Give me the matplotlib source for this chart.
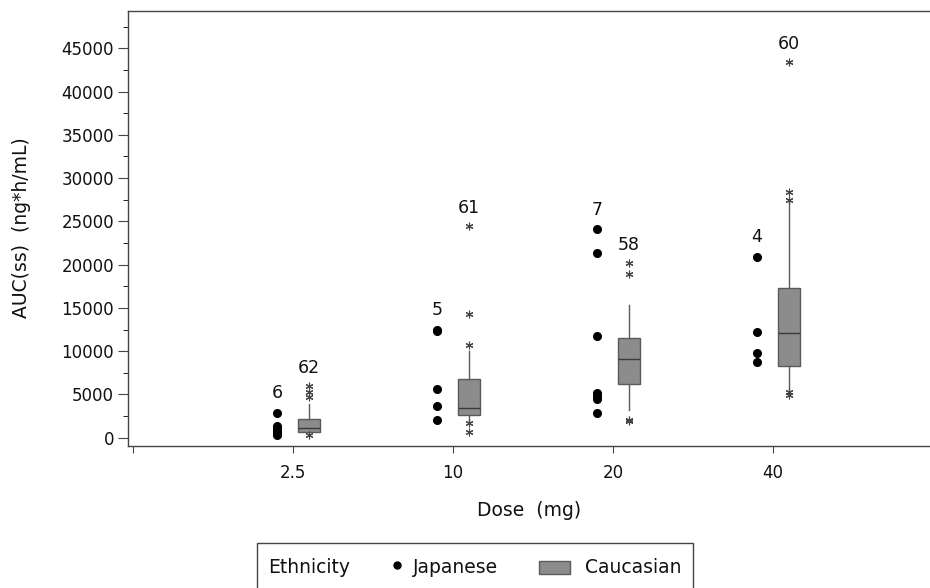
import matplotlib
matplotlib.use('Agg')
import matplotlib.pyplot as plt
from matplotlib.ticker import MultipleLocator
from matplotlib.lines import Line2D
from matplotlib.patches import Rectangle
from matplotlib.offsetbox import AnchoredOffsetbox, HPacker, VPacker, TextArea, DrawingArea

# Dose groups (first slot is an empty spacer tick)
dose_labels = ['', '2.5', '10', '20', '40']
dose_pos = [1, 2, 3, 4]

# Japanese individual AUC(ss) values per dose group
jap_25 = [2900, 1400, 1100, 800, 500, 300]
jap_10 = [12500, 12300, 5600, 3700, 2100]
jap_20 = [24100, 21400, 11800, 5200, 4800, 4500, 2900]
jap_40 = [20900, 12200, 9800, 8700]

# Caucasian box summaries per dose group
cau_q1 = [700, 2600, 6200, 8300]
cau_med = [1150, 3450, 9100, 12050]
cau_q3 = [2200, 6800, 11500, 17250]
cau_whislo = [500, 1900, 3200, 5500]
cau_whishi = [3950, 10000, 15300, 27200]
cau_fliers = [
    [4700, 5300, 5950, 300],
    [10700, 14300, 24500, 1750, 700],
    [18900, 20200, 2100, 1900],
    [27500, 28400, 43400, 5300, 4900],
]
cau_n = [62, 61, 58, 60]

BOX_FILL = '#8c8c8c'
BOX_EDGE = '#5a5a5a'
AXIS_COL = '#444444'
TXT = '#111111'

fig = plt.figure(figsize=(9.3, 5.88), dpi=100, facecolor='white')
ax = fig.add_axes([128 / 930, 1 - 445.5 / 588, 1 - 128 / 930, (445.5 - 10.5) / 588])

# Japanese: black dots shifted left of the tick
jap_groups = [jap_25, jap_10, jap_20, jap_40]
for x, vals in zip(dose_pos, jap_groups):
    ax.plot([x - 0.1] * len(vals), vals, 'o', color='black', ms=5.5, zorder=3)
    ax.annotate(str(len(vals)), (x - 0.1, max(vals)), xytext=(0, 14),
                textcoords='offset points', ha='center', va='center',
                fontsize=12.5, color=TXT)

# Caucasian: box plots shifted right of the tick
stats = []
for i in range(4):
    stats.append(dict(q1=cau_q1[i], med=cau_med[i], q3=cau_q3[i],
                      whislo=cau_whislo[i], whishi=cau_whishi[i],
                      fliers=cau_fliers[i]))
ax.bxp(stats, positions=[x + 0.1 for x in dose_pos], widths=0.14,
       patch_artist=True, showcaps=False, manage_ticks=False,
       boxprops=dict(facecolor=BOX_FILL, edgecolor=BOX_EDGE, linewidth=1),
       medianprops=dict(color='#3a3a3a', linewidth=1),
       whiskerprops=dict(color=BOX_EDGE, linewidth=1),
       flierprops=dict(marker=(6, 2, 0), markersize=5.5, markeredgecolor='#444444',
                       markeredgewidth=0.8, linestyle='none'))
for x, n, fl, hi in zip(dose_pos, cau_n, cau_fliers, cau_whishi):
    top = max(fl + [hi])
    ax.annotate(str(n), (x + 0.1, top), xytext=(0, 13),
                textcoords='offset points', ha='center', va='center',
                fontsize=12.5, color=TXT)

ax.set_xlim(-0.03, 4.98)
ax.set_ylim(-900, 49370)
ax.set_xticks(range(5))
ax.set_xticklabels(dose_labels)
ax.yaxis.set_major_locator(MultipleLocator(5000))
ax.yaxis.set_minor_locator(MultipleLocator(2500))
ax.set_yticks(range(0, 45001, 5000))

ax.spines['right'].set_visible(False)
for sp in ['left', 'top', 'bottom']:
    ax.spines[sp].set_color(AXIS_COL)
    ax.spines[sp].set_linewidth(1)
ax.tick_params(axis='both', colors=AXIS_COL, labelcolor=TXT, labelsize=12)
ax.tick_params(axis='y', which='major', length=7, pad=3)
ax.tick_params(axis='y', which='minor', length=3.5)
ax.tick_params(axis='x', length=5, pad=8)

ax.set_xlabel('Dose  (mg)', fontsize=13.5, color=TXT, labelpad=14)
ax.set_ylabel('AUC(ss)  (ng*h/mL)', fontsize=13.5, color=TXT, labelpad=22)

# Legend strip along the bottom
dot_area = DrawingArea(8, 10, 0, 0)
dot_area.add_artist(Line2D([4], [7], marker='o', ms=5, color='black', linestyle='none'))
box_area = DrawingArea(22, 10, 0, 0)
box_area.add_artist(Rectangle((0, 0.5), 22, 9.5, facecolor=BOX_FILL, edgecolor=BOX_EDGE, linewidth=1))

tp = dict(fontsize=13.5, color=TXT)
item_jap = HPacker(children=[dot_area, TextArea('Japanese', textprops=tp)], sep=7, align='center')
item_cau = HPacker(children=[box_area, TextArea('Caucasian', textprops=tp)], sep=11, align='center')
row = HPacker(children=[TextArea('Ethnicity', textprops=tp), item_jap, item_cau],
              sep=30, align='center')
content = VPacker(children=[DrawingArea(1, 3), row, DrawingArea(1, 20)], sep=0, align='left')
leg = AnchoredOffsetbox(loc='upper left', child=content, pad=0.8, borderpad=0,
                        frameon=True, bbox_to_anchor=(257 / 930, 1 - 543 / 588),
                        bbox_transform=fig.transFigure)
leg.patch.set_edgecolor(AXIS_COL)
leg.patch.set_linewidth(1)
leg.patch.set_boxstyle('square', pad=0)
fig.add_artist(leg)

fig.savefig('out.png', dpi=100, facecolor='white')
